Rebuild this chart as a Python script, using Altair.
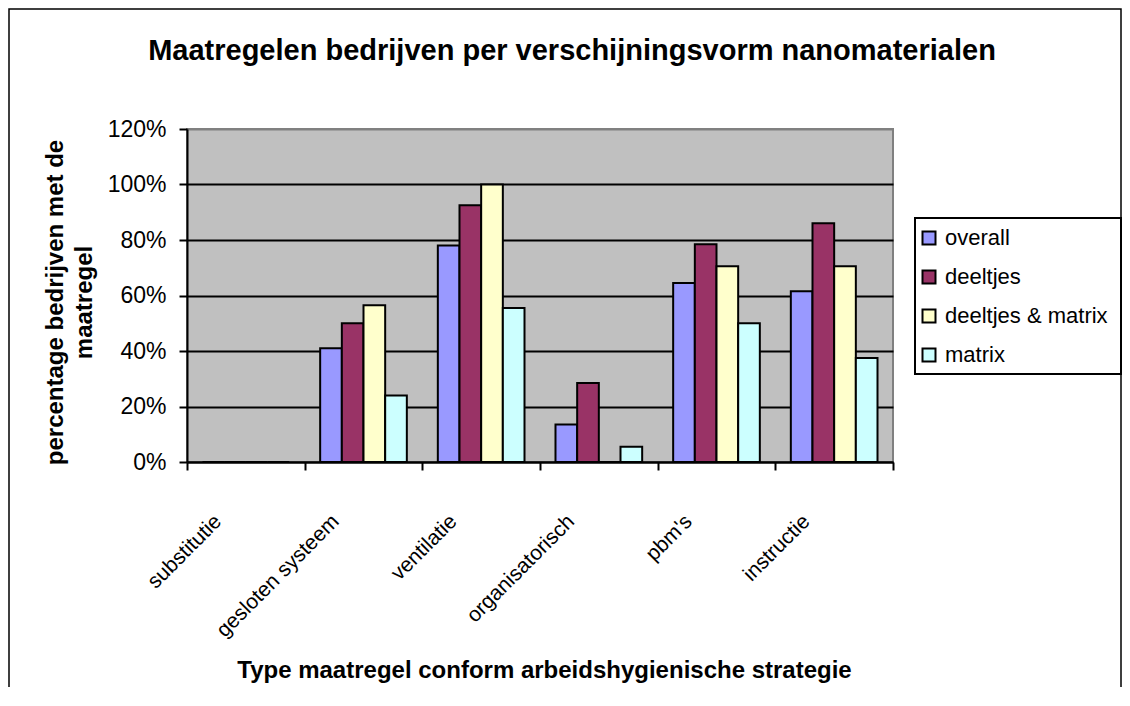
import altair as alt
import pandas as pd

categories = ["substitutie", "gesloten systeem", "ventilatie", "organisatorisch", "pbm's", "instructie"]
series = ["overall", "deeltjes", "deeltjes & matrix", "matrix"]
colors = ["#9999FF", "#993366", "#FFFFCC", "#CCFFFF"]

overall = [0.0, 0.41, 0.78, 0.135, 0.645, 0.615]
deeltjes = [0.0, 0.50, 0.925, 0.285, 0.785, 0.86]
deeltjes_matrix = [0.0, 0.565, 1.0, 0.0, 0.705, 0.705]
matrix = [0.0, 0.24, 0.555, 0.055, 0.50, 0.375]

y_ticks = [0, 0.2, 0.4, 0.6, 0.8, 1.0, 1.2]

rows = []
for name, vals in zip(series, [overall, deeltjes, deeltjes_matrix, matrix]):
    for c, v in zip(categories, vals):
        rows.append({"categorie": c, "reeks": name, "waarde": v})
df = pd.DataFrame(rows)

FONT = "Liberation Sans"

bars = alt.Chart(df).mark_bar(stroke="black", strokeWidth=2).encode(
    x=alt.X(
        "categorie:N",
        sort=categories,
        scale=alt.Scale(paddingInner=0, paddingOuter=0),
        axis=alt.Axis(
            title="Type maatregel conform arbeidshygienische strategie",
            titleFont=FONT, titleFontSize=24, titleFontWeight="bold", titleColor="black",
            titleX=357, titleY=215, titleAlign="center", titleBaseline="alphabetic",
            labelFont=FONT, labelFontSize=21, labelColor="black",
            labelAngle=315, labelAlign="right", labelBaseline="middle",
            labelOffset=-28, labelPadding=48, labelLimit=300,
            tickBand="extent", tickSize=8, tickColor="black", tickWidth=2,
            domainColor="black", domainWidth=2, grid=False,
        ),
    ),
    xOffset=alt.XOffset("reeks:N", sort=series,
                        scale=alt.Scale(paddingInner=0, paddingOuter=0.715)),
    y=alt.Y(
        "waarde:Q",
        scale=alt.Scale(domain=[0, 1.2], nice=False),
        axis=alt.Axis(
            values=y_ticks, format=".0%",
            title=["percentage bedrijven met de", "maatregel"],
            titleFont=FONT, titleFontSize=24, titleFontWeight="bold", titleColor="black",
            titleAngle=270, titleX=-144, titleY=173, titleAlign="center",
            titleBaseline="top", titleLineHeight=29,
            labelFont=FONT, labelFontSize=23, labelColor="black", labelPadding=13,
            tickSize=8, tickColor="black", tickWidth=2,
            domainColor="black", domainWidth=2,
            grid=True, gridWidth=2,
            gridColor={"condition": {"test": "datum.value > 1.1", "value": "#808080"}, "value": "black"},
        ),
    ),
    color=alt.Color(
        "reeks:N", sort=series,
        scale=alt.Scale(domain=series, range=colors),
        legend=alt.Legend(
            title=None, orient="none", legendX=731, legendY=98,
            symbolType="square", symbolSize=169, symbolStrokeColor="black",
            symbolStrokeWidth=2, labelFont=FONT, labelFontSize=22, labelColor="black",
            rowPadding=17, labelOffset=5, padding=0, labelLimit=400,
        ),
    ),
)

deco = alt.Data(values=[{"a": 1}])
frame = alt.Chart(deco).mark_rect(fillOpacity=0, stroke="black", strokeWidth=1.5).encode(
    x=alt.value(-178), x2=alt.value(934), y=alt.value(-120), y2=alt.value(700)
)
legend_box = alt.Chart(deco).mark_rect(fillOpacity=0, stroke="black", strokeWidth=2).encode(
    x=alt.value(728), x2=alt.value(934), y=alt.value(89), y2=alt.value(245)
)

chart = alt.layer(bars, frame, legend_box).properties(
    width=706, height=333,
    title=alt.TitleParams(
        "Maatregelen bedrijven per verschijningsvorm nanomaterialen",
        font=FONT, fontSize=29, fontWeight="bold", color="black",
        anchor="middle", frame="group", baseline="alphabetic", offset=0, dy=81, dx=32,
    ),
    padding={"left": 179, "top": 121, "right": 229, "bottom": 225},
    autosize=alt.AutoSizeParams(type="none"),
).configure_view(
    fill="#C0C0C0", stroke="#808080", strokeWidth=2
)

chart.save("out.html", embed_options={"renderer": "svg", "actions": False})
